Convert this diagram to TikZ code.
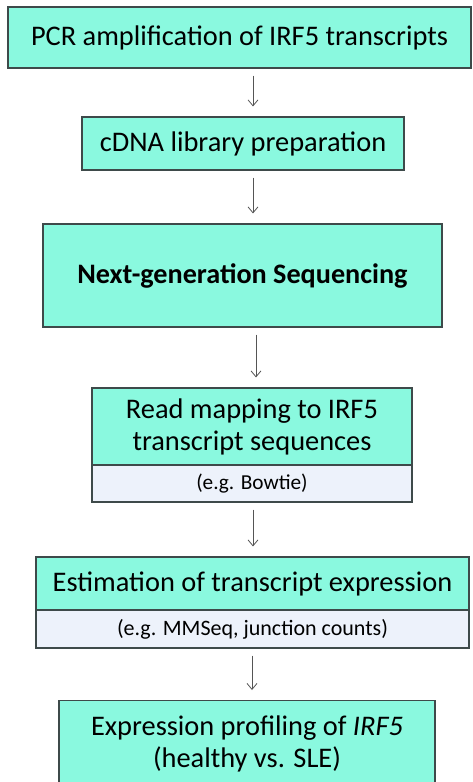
\documentclass[tikz,border=0pt]{standalone}
\usepackage{fontspec}
\setmainfont{Carlito}
\usetikzlibrary{arrows.meta}
\definecolor{aqua}{HTML}{8AF9DF}
\definecolor{pale}{HTML}{EDF2FB}
\definecolor{edge}{HTML}{3E4A4A}
\definecolor{arrowgray}{HTML}{555555}
\tikzset{
  stepbox/.style={draw=edge, line width=1.1pt, fill=aqua, inner sep=0pt, align=center,
    font=\fontsize{28.4}{32}\selectfont},
  notebox/.style={draw=edge, line width=1.1pt, fill=pale, inner sep=0pt, align=center,
    font=\fontsize{22}{26}\selectfont},
  flow/.style={draw=arrowgray, line width=0.8pt, -{Straight Barb[length=6pt,width=10pt]},
    shorten <=7pt, shorten >=10pt},
}
\begin{document}
\begin{tikzpicture}[x=1pt,y=-1pt]
\useasboundingbox (0,0) rectangle (472,782);
\fill[white] (0,0) rectangle (472,782);
\clip (0,0) rectangle (472,782);

% main steps
\node[stepbox, minimum width=463pt, minimum height=61pt] (pcr) at (239.5,37.5)
  {PCR amplification of IRF5 transcripts};
\node[stepbox, minimum width=322pt, minimum height=53pt] (lib) at (243,143.5)
  {cDNA library preparation};
\node[stepbox, minimum width=399pt, minimum height=103pt, font=\fontsize{28.2}{32}\selectfont\bfseries] (ngs) at (242.5,275.5)
  {Next-generation Sequencing};
\node[stepbox, minimum width=320pt, minimum height=77pt] (map) at (252,426.5)
  {Read mapping to IRF5\\transcript sequences};
\node[notebox, minimum width=320pt, minimum height=37pt, font=\fontsize{21.3}{26}\selectfont] (mapnote) at (252,483.5)
  {(e.g. Bowtie)};
\node[stepbox, minimum width=433pt, minimum height=53pt] (est) at (252.5,583.5)
  {Estimation of transcript expression};
\node[notebox, minimum width=433pt, minimum height=38pt] (estnote) at (252.5,629)
  {(e.g. MMSeq, junction counts)};
\node[stepbox, minimum width=376pt, minimum height=100pt, anchor=north] (prof) at (247,700)
  {};
\node[font=\fontsize{28.4}{32}\selectfont, anchor=base] (proft) at (247,735)
  {Expression profiling of \textit{IRF5}};
\node[font=\fontsize{28.4}{32}\selectfont, anchor=base] (profs) at (247,767)
  {(healthy vs. SLE)};

% connectors
\draw[flow] ([xshift=13.5pt]pcr.south) -- ([xshift=10pt]lib.north);
\draw[flow] ([xshift=10pt]lib.south) -- ([xshift=10.5pt]ngs.north);
\draw[flow] ([xshift=13.5pt]ngs.south) -- ([xshift=4pt]map.north);
\draw[flow] ([xshift=1pt]mapnote.south) -- ([xshift=0.5pt]est.north);
\draw[flow] ([xshift=-0.5pt]estnote.south) -- ([xshift=5pt]prof.north);
\end{tikzpicture}
\end{document}
